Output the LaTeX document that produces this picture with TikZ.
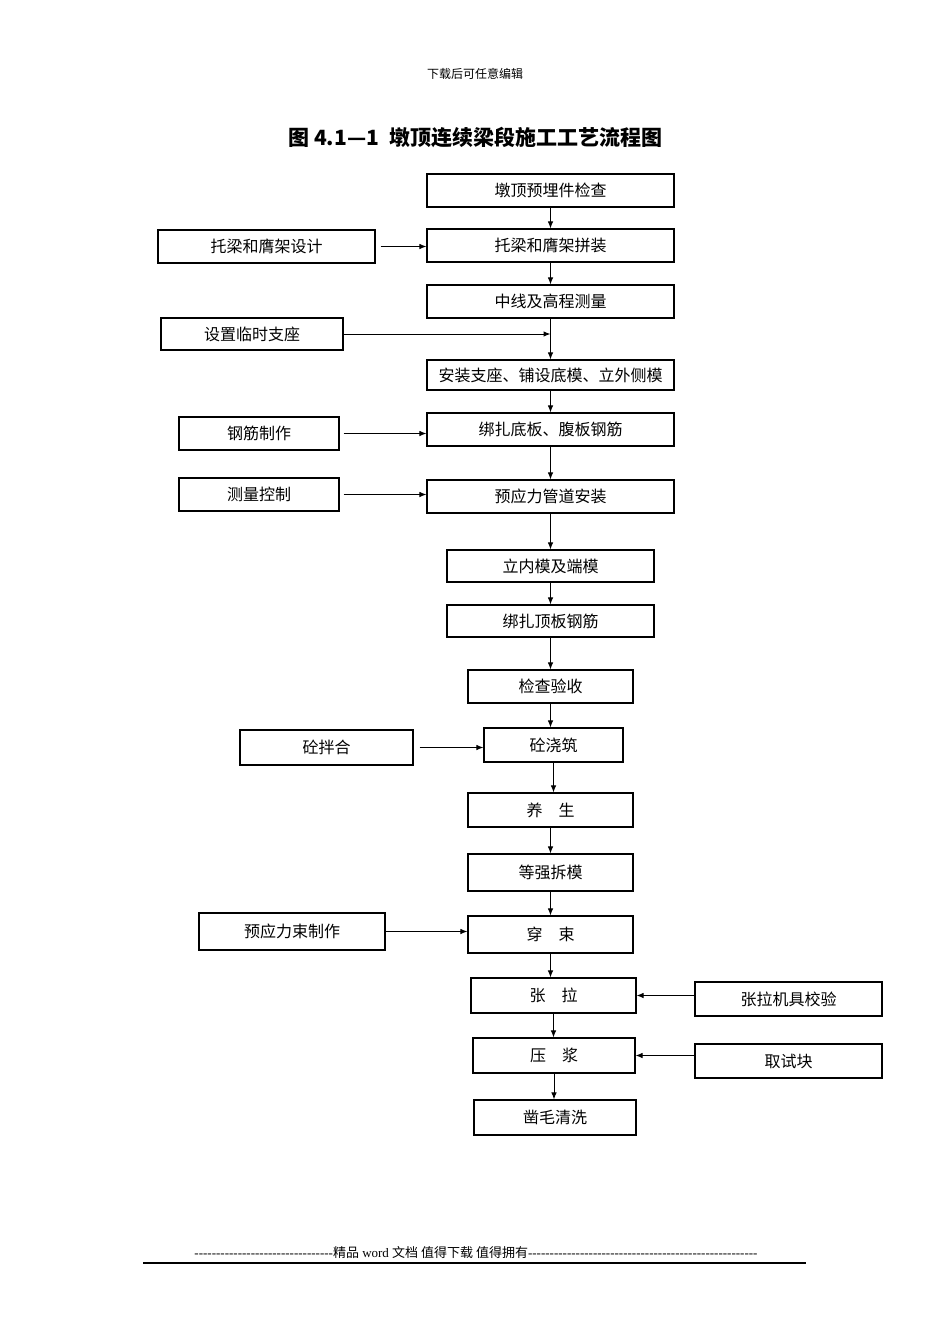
\documentclass[tikz,border=0pt]{standalone}
\usepackage{fontspec}
\setmainfont{Liberation Serif}
\newfontfamily\cjk{Noto Sans CJK SC}
\usetikzlibrary{calc, arrows.meta}

% a run of plain hyphens (no dash ligatures)
\newcommand\dashrun[1]{\foreach \i in {1,...,#1}{-}}

\begin{document}
\begin{tikzpicture}[x=1pt, y=-1pt,
    % Styles
    stage/.style={draw, line width=1.1pt, inner sep=0pt, font=\cjk\fontsize{16}{18}\selectfont},
    flow-arrow/.style={-{Latex[length=7pt, width=5.5pt]}, line width=1pt},
    note/.style={font=\cjk\fontsize{12}{14}\selectfont},
]

% Page
\useasboundingbox[fill=white] (0,0) rectangle (950,1344);

% Header and title
\node[note] (header) at (475,74) {下载后可任意编辑};
\node[font=\cjk\bfseries\fontsize{21}{24}\selectfont] (title) at (475.5,137) {图 4.1—1\hspace{0.5em}墩顶连续梁段施工工艺流程图};

% Main column
\node[stage, minimum width=247, minimum height=33] (check) at (550.5,190.5) {墩顶预埋件检查};
\node[stage, minimum width=247, minimum height=33] (assemble) at (550.5,245.5) {托梁和膺架拼装};
\node[stage, minimum width=247, minimum height=33] (survey) at (550.5,301.5) {中线及高程测量};
\node[stage, minimum width=247, minimum height=30] (install) at (550.5,375) {安装支座、铺设底模、立外侧模};
\node[stage, minimum width=247, minimum height=33] (rebar) at (550.5,429.5) {绑扎底板、腹板钢筋};
\node[stage, minimum width=247, minimum height=33] (duct) at (550.5,496.5) {预应力管道安装};
\node[stage, minimum width=207, minimum height=32] (innerform) at (550.5,566) {立内模及端模};
\node[stage, minimum width=207, minimum height=32] (toprebar) at (550.5,621) {绑扎顶板钢筋};
\node[stage, minimum width=165, minimum height=33] (accept) at (550.5,686.5) {检查验收};
\node[stage, minimum width=139, minimum height=34] (pour) at (553.5,745) {砼浇筑};
\node[stage, minimum width=165, minimum height=34] (cure) at (550.5,810) {养\hspace{1em}生};
\node[stage, minimum width=165, minimum height=37] (strip) at (550.5,872.5) {等强拆模};
\node[stage, minimum width=165, minimum height=37] (thread) at (550.5,934.5) {穿\hspace{1em}束};
\node[stage, minimum width=165, minimum height=35] (tension) at (553.5,995.5) {张\hspace{1em}拉};
\node[stage, minimum width=162, minimum height=35] (grout) at (554,1055.5) {压\hspace{1em}浆};
\node[stage, minimum width=162, minimum height=35] (chisel) at (555,1117.5) {凿毛清洗};

% Side inputs
\node[stage, minimum width=217, minimum height=33] (design) at (266.5,246.5) {托梁和膺架设计};
\node[stage, minimum width=182, minimum height=32] (support) at (252,334) {设置临时支座};
\node[stage, minimum width=160, minimum height=33] (steelmake) at (259,433.5) {钢筋制作};
\node[stage, minimum width=160, minimum height=33] (control) at (259,494.5) {测量控制};
\node[stage, minimum width=173, minimum height=35] (mix) at (326.5,747.5) {砼拌合};
\node[stage, minimum width=186, minimum height=37] (tendon) at (292,931.5) {预应力束制作};
\node[stage, minimum width=187, minimum height=34] (calibrate) at (788.5,999) {张拉机具校验};
\node[stage, minimum width=187, minimum height=34] (sample) at (788.5,1061) {取试块};

% Main flow
\foreach \a/\b in {check/assemble, assemble/survey, survey/install, install/rebar,
    rebar/duct, duct/innerform, innerform/toprebar, toprebar/accept, accept/pour,
    pour/cure, cure/strip, strip/thread, thread/tension, tension/grout, grout/chisel}
    \draw[flow-arrow] (\a.south) -- (\a.south |- \b.north);

% Inputs from the side
\coordinate (tap) at (survey.south |- support.east);
\draw[flow-arrow, shorten <=5pt] (design.east) -- (design.east -| assemble.west);
\draw[flow-arrow] (support.east) -- (tap);
\draw[flow-arrow, shorten <=4pt] (steelmake.east) -- (steelmake.east -| rebar.west);
\draw[flow-arrow, shorten <=4pt] (control.east) -- (control.east -| duct.west);
\draw[flow-arrow, shorten <=6pt] (mix.east) -- (mix.east -| pour.west);
\draw[flow-arrow] (tendon.east) -- (tendon.east -| thread.west);
\draw[flow-arrow] (calibrate.west |- tension.east) -- (tension.east);
\draw[flow-arrow] (sample.west |- grout.east) -- (grout.east);

% Footer
\node[font=\fontsize{13}{15}\selectfont] (footer) at (476,1253)
    {\dashrun{32}{\cjk 精品} word {\cjk 文档 值得下载 值得拥有}\dashrun{53}};
\coordinate (rule-l) at (143,1263);
\coordinate (rule-r) at (806,1263);
\draw[line width=1.1pt] (rule-l) -- (rule-r);

\end{tikzpicture}
\end{document}
